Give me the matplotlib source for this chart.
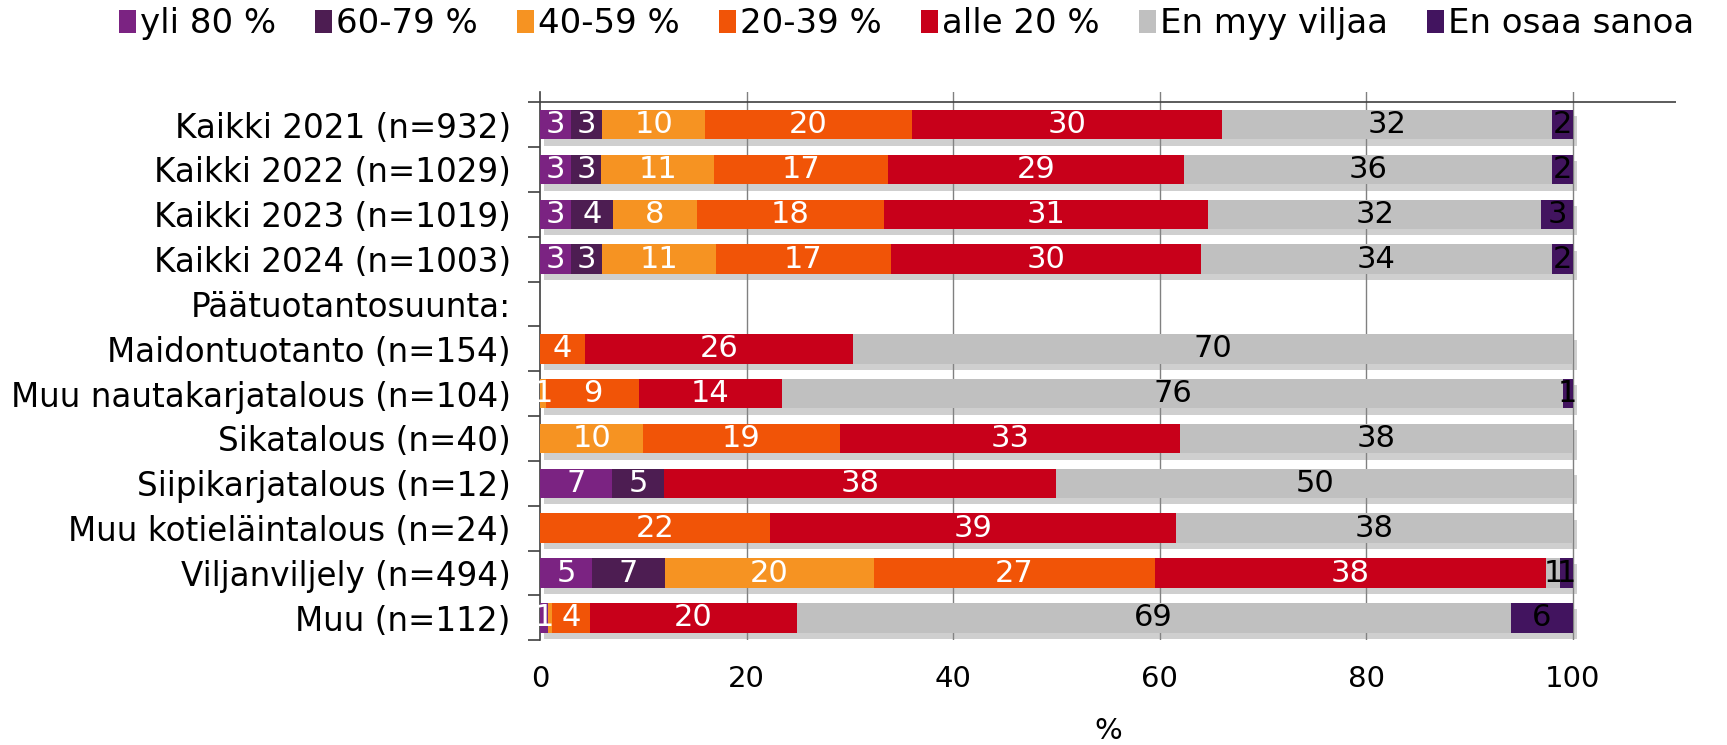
import matplotlib
matplotlib.use("Agg")
import matplotlib.pyplot as plt
import matplotlib.patheffects as pe
import numpy as np

plt.rcParams['font.family'] = ['DejaVu Sans']

categories = ["Kaikki 2021 (n=932)", "Kaikki 2022 (n=1029)", "Kaikki 2023 (n=1019)",
              "Kaikki 2024 (n=1003)", "Päätuotantosuunta:", "Maidontuotanto (n=154)",
              "Muu nautakarjatalous (n=104)", "Sikatalous (n=40)", "Siipikarjatalous (n=12)",
              "Muu kotieläintalous (n=24)", "Viljanviljely (n=494)", "Muu (n=112)"]
series_names = ["yli 80 %", "60-79 %", "40-59 %", "20-39 %", "alle 20 %",
                "En myy viljaa", "En osaa sanoa"]
yli80   = [3, 3, 3, 3, 0, 0, 0,   0, 7, 0, 5, 0.8]
v60_79  = [3, 3, 4, 3, 0, 0, 0,   0, 5, 0, 7, 0]
v40_59  = [10, 11, 8, 11, 0, 0, 0.6, 10, 0, 0, 20, 0.4]
v20_39  = [20, 17, 18, 17, 0, 4.4, 9, 19, 0, 22, 27, 3.6]
alle20  = [30, 29, 31, 30, 0, 26, 14, 33, 38, 39, 37.5, 20]
en_myy  = [32, 36, 32, 34, 0, 70, 76, 38, 50, 38, 1.4, 69]
en_osaa = [2, 2, 3, 2, 0, 0, 1, 0, 0, 0, 1.2, 6]
x_ticks = [0, 20, 40, 60, 80, 100]

colors = ["#7B2382", "#4D1D52", "#F69322", "#F15407", "#C8001A", "#C0C0C0", "#42145F"]
text_colors = ["white", "white", "white", "white", "white", "black", "black"]

data = np.array([yli80, v60_79, v40_59, v20_39, alle20, en_myy, en_osaa], dtype=float)
totals = data.sum(axis=0)
safe = np.where(totals > 0, totals, 1)
widths = data / safe * 100

fig = plt.figure(figsize=(17.27, 7.45), dpi=100)
ax = fig.add_axes([0.3127, 0.1406, 0.6578, 0.8760 - 0.1406])

y = np.arange(len(categories))
left = np.zeros(len(categories))
shadow = [pe.SimplePatchShadow(offset=(3, -4.5), shadow_rgbFace='#888888', alpha=0.4), pe.Normal()]
for i, name in enumerate(series_names):
    bars = ax.barh(y, widths[i], left=left, height=0.66, color=colors[i], label=name,
                   zorder=3)
    for b in bars:
        b.set_path_effects(shadow)
    for j in range(len(categories)):
        v = data[i, j]
        if round(v) >= 1:
            ax.text(left[j] + widths[i, j] / 2, y[j], f"{int(round(v))}",
                    ha='center', va='center', color=text_colors[i], fontsize=22, zorder=5)
    left = left + widths[i]

ax.set_xlim(0, 110)
ax.set_ylim(len(categories) - 0.5, -0.72)
ax.set_xticks(x_ticks)
ax.set_xticklabels([str(t) for t in x_ticks], fontsize=21)
ax.tick_params(axis='x', length=0, pad=18)
ax.set_yticks(y)
ax.set_yticklabels(categories, fontsize=23.5)
ax.tick_params(axis='y', which='major', length=0, pad=21)
ax.set_yticks(np.arange(-0.5, len(categories), 1), minor=True)
ax.tick_params(axis='y', which='minor', length=9, width=1.2, color='#404040')

for xv in x_ticks[1:]:
    ax.axvline(xv, color='#808080', lw=1.0, zorder=1)

for s in ['top', 'right', 'bottom']:
    ax.spines[s].set_visible(False)
ax.spines['left'].set_color('#404040')
ax.spines['left'].set_linewidth(1.2)
ax.axhline(-0.5, color='#404040', lw=1.2, zorder=2)

ax.set_xlabel("%", fontsize=21, labelpad=17)

leg = fig.legend(loc='center', bbox_to_anchor=(0.525, 0.968), ncol=7, frameon=False,
                 fontsize=24.5, handlelength=0.5, handleheight=0.65, handletextpad=0.12,
                 columnspacing=1.15, borderaxespad=0)
for h in leg.legend_handles:
    h.set_path_effects([])

fig.savefig("out.png", dpi=100)
